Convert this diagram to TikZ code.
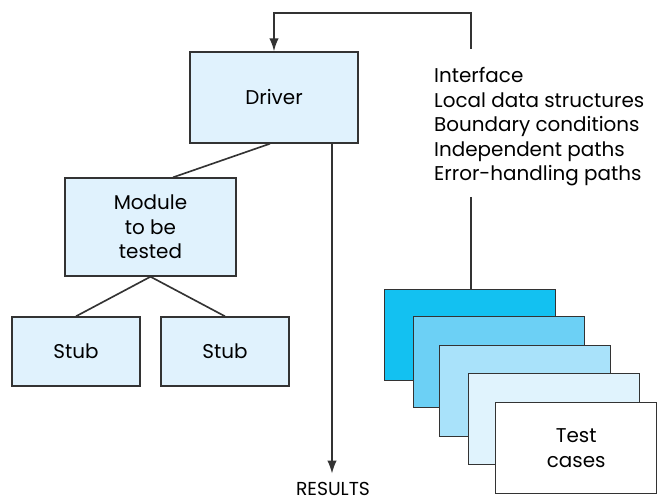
\documentclass[tikz,border=0pt]{standalone}
\usepackage{fontspec}
\setmainfont{Poppins}
\usetikzlibrary{positioning, arrows.meta}
\definecolor{paleblue}{HTML}{E0F2FD}
\definecolor{cardA}{HTML}{13C1F1}
\definecolor{cardB}{HTML}{6CD0F5}
\definecolor{cardC}{HTML}{A9E2FA}
\definecolor{cardD}{HTML}{E0F3FD}
\definecolor{rim}{HTML}{333333}
\tikzset{
    unit/.style={
        draw=rim,
        line width=1.2pt,
        fill=paleblue,
        align=center,
        font=\fontsize{17}{20.9}\selectfont
    },
    card/.style={
        draw=rim,
        line width=1.2pt,
        minimum width=5.13cm,
        minimum height=2.73cm,
        anchor=north west,
        align=center,
        font=\fontsize{17}{20.9}\selectfont
    },
    wire/.style={draw=rim, line width=1.4pt},
    >={Latex[length=11pt,width=8pt]}
}

\begin{document}
\begin{tikzpicture}
        \useasboundingbox (0,0) rectangle (19.71,15.03);
        % program units
        \node[unit, minimum width=5.04cm, minimum height=2.73cm] (driver) at (8.22,12.105) {Driver};
        \node[unit, minimum width=5.13cm, minimum height=2.94cm] (module) at (4.515,8.22) {Module\\to be\\tested};
        \node[unit, minimum width=3.84cm, minimum height=2.07cm] (stubA) at (2.28,4.485) {Stub};
        \node[unit, minimum width=3.84cm, minimum height=2.07cm] (stubB) at (6.75,4.485) {Stub};
        \draw[wire] ([xshift=-0.12cm]driver.south) -- ([xshift=0.68cm]module.north);
        \draw[wire] (module.south) -- (stubA.north);
        \draw[wire] (module.south) -- (stubB.north);

        % results
        \node[inner sep=1pt, font=\fontsize{16}{19}\selectfont] (results) at (9.99,0.36) {RESULTS};
        \draw[wire,->] ([xshift=1.74cm]driver.south) -- ([xshift=-0.03cm,yshift=0.22cm]results.north);

        % what is checked
        \node[anchor=north west, align=left, inner sep=0pt, font=\fontsize{17}{20.9}\selectfont] (checks) at (13.02,13.01)
            {Interface\\Local data structures\\Boundary conditions\\Independent paths\\Error-handling paths};
        \coordinate (loopstart) at (14.13,13.56);
        \coordinate (caseslink) at (14.13,9.12);
        \draw[wire,->] (loopstart) -- ++(0,1.08) -| (driver.north);

        % test cases
        \node[card, fill=cardA] (caseA) at (11.52,6.36) {};
        \node[card, fill=cardB] (caseB) at (12.39,5.55) {};
        \node[card, fill=cardC] (caseC) at (13.17,4.68) {};
        \node[card, fill=cardD] (caseD) at (14.04,3.84) {};
        \node[card, fill=white, minimum width=4.83cm] (caseE) at (14.85,2.97) {Test\\cases};
        \draw[wire] (caseslink) -- (caseA.north -| caseslink);
\end{tikzpicture}
\end{document}
